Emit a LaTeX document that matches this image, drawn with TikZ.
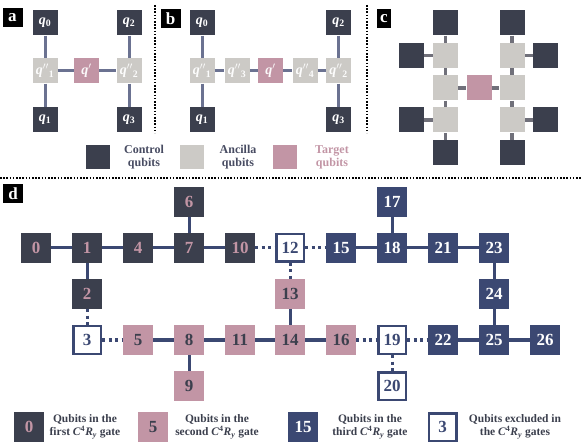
\documentclass[tikz,border=0pt]{standalone}
\usepackage{fontspec}
\setmainfont{Liberation Serif}
\usetikzlibrary{positioning}
\definecolor{qctrl}{RGB}{59,63,77}
\definecolor{qanc}{RGB}{204,202,198}
\definecolor{qtgt}{RGB}{194,149,165}
\definecolor{qnavy}{RGB}{59,72,114}
\definecolor{qlink}{RGB}{107,114,145}
\definecolor{qstub}{RGB}{112,112,122}
\definecolor{qink}{RGB}{72,76,98}
\newcommand{\crgate}{\textit{C}\textsuperscript{4}\textit{R}\textsubscript{\textit{y}}}

\begin{document}
\begin{tikzpicture}[
  x=1pt, y=-1pt,
  qbox/.style={minimum size=25pt, inner sep=0pt, font=\bfseries\fontsize{14}{14}\selectfont},
  ctrl/.style={qbox, fill=qctrl, text=white},
  anc/.style={qbox, fill=qanc, text=white!94!qanc},
  tgt/.style={qbox, fill=qtgt, text=white!94!qtgt},
  link/.style={draw=qlink, line width=3pt},
  stub/.style={draw=qstub, line width=3.5pt},
  tag/.style={fill=black, text=white, font=\bfseries\fontsize{17}{17}\selectfont, inner sep=0pt, minimum width=20pt, minimum height=19pt},
  sepline/.style={line width=1.6pt, dash pattern=on 1.6pt off 1.6pt},
  dbox/.style={minimum size=30pt, inner sep=0pt, font=\bfseries\fontsize{17}{17}\selectfont},
  grpA/.style={dbox, fill=qctrl, text=qtgt},
  grpB/.style={dbox, fill=qtgt, text=qctrl},
  grpC/.style={dbox, fill=qnavy, text=white},
  dropped/.style={dbox, fill=white, draw=qnavy, line width=2.5pt, text=qnavy, minimum size=27.5pt},
  wire/.style={draw=qnavy, line width=3pt},
  hop/.style={draw=qnavy, line width=3pt, dash pattern=on 3pt off 3.5pt},
  key/.style={align=center, text=qink, font=\bfseries\fontsize{12}{13}\selectfont},
  note/.style={align=center, text=qctrl, font=\bfseries\fontsize{11.5}{13}\selectfont}
]
\useasboundingbox (0,0) rectangle (581,446);

% separators
\draw[sepline] (155,5) -- (155,133);
\draw[sepline] (367,5) -- (367,133);
\draw[sepline] (0,178) -- (581,178);

% panel a
\node[tag] (taga) at (12.5,18) {a};
\node[ctrl] (a0) at (45,23) {\textit{q}\textsubscript{0}};
\node[anc] (a1p) at (45,71) {\textit{q}$''$\textsubscript{1}};
\node[ctrl] (a1) at (45,120) {\textit{q}\textsubscript{1}};
\node[tgt] (at) at (86.5,71) {\textit{q}$'$};
\node[anc] (a2p) at (129,71) {\textit{q}$''$\textsubscript{2}};
\node[ctrl] (a2) at (129,23) {\textit{q}\textsubscript{2}};
\node[ctrl] (a3) at (129,120) {\textit{q}\textsubscript{3}};
\draw[link] (a0) -- (a1p);
\draw[link] (a1p) -- (a1);
\draw[link] (a1p) -- (at);
\draw[link] (at) -- (a2p);
\draw[link] (a2) -- (a2p);
\draw[link] (a2p) -- (a3);

% panel b
\node[tag] (tagb) at (170.5,18.5) {b};
\node[ctrl] (b0) at (202,23) {\textit{q}\textsubscript{0}};
\node[anc] (b1p) at (202,71) {\textit{q}$''$\textsubscript{1}};
\node[ctrl] (b1) at (202,120) {\textit{q}\textsubscript{1}};
\node[anc] (b3p) at (237,71) {\textit{q}$''$\textsubscript{3}};
\node[tgt] (bt) at (270.5,71) {\textit{q}$'$};
\node[anc] (b4p) at (305,71) {\textit{q}$''$\textsubscript{4}};
\node[anc] (b2p) at (338.5,71) {\textit{q}$''$\textsubscript{2}};
\node[ctrl] (b2) at (338.5,23) {\textit{q}\textsubscript{2}};
\node[ctrl] (b3) at (338.5,120) {\textit{q}\textsubscript{3}};
\draw[link] (b0) -- (b1p);
\draw[link] (b1p) -- (b1);
\draw[link] (b1p) -- (b3p);
\draw[link] (b3p) -- (bt);
\draw[link] (bt) -- (b4p);
\draw[link] (b4p) -- (b2p);
\draw[link] (b2) -- (b2p);
\draw[link] (b2p) -- (b3);

% legend a/b
\node[ctrl, minimum size=24pt] (kctrl) at (98,157.5) {};
\node[key] (tctrl) at (144,157.5) {Control\\qubits};
\node[anc, minimum size=24pt] (kanc) at (192,157.5) {};
\node[key] (tanc) at (238,157.5) {Ancilla\\qubits};
\node[tgt, minimum size=24pt] (ktgt) at (284.5,157.5) {};
\node[key, text=qtgt] (ttgt) at (332,157.5) {Target\\qubits};

% panel c
\node[tag, minimum width=14pt] (tagc) at (384,18.5) {c};
\node[ctrl] (c1) at (445.5,23) {};
\node[ctrl] (c2) at (512,23) {};
\node[ctrl] (c3) at (411.5,55.5) {};
\node[ctrl] (c4) at (545.5,55.5) {};
\node[ctrl] (c5) at (411.5,120) {};
\node[ctrl] (c6) at (545.5,120) {};
\node[ctrl] (c7) at (445.5,153) {};
\node[ctrl] (c8) at (512,153) {};
\node[anc] (n1) at (445.5,55.5) {};
\node[anc] (n2) at (512,55.5) {};
\node[anc] (n3) at (445.5,88) {};
\node[anc] (n4) at (512,88) {};
\node[anc] (n5) at (445.5,120) {};
\node[anc] (n6) at (512,120) {};
\node[tgt] (ct) at (479,88) {};
\draw[stub] (c1) -- (n1);
\draw[stub] (c2) -- (n2);
\draw[stub] (c3) -- (n1);
\draw[stub] (c4) -- (n2);
\draw[stub] (c5) -- (n5);
\draw[stub] (c6) -- (n6);
\draw[stub] (c7) -- (n5);
\draw[stub] (c8) -- (n6);
\draw[stub] (n1) -- (n3);
\draw[stub] (n3) -- (n5);
\draw[stub] (n2) -- (n4);
\draw[stub] (n4) -- (n6);
\draw[stub] (n3) -- (ct);
\draw[stub] (ct) -- (n4);

% panel d
\node[tag] (tagd) at (13,194) {d};
\node[grpA] (q0) at (36,248) {0};
\node[grpA] (q1) at (87,248) {1};
\node[grpA] (q2) at (87,294) {2};
\node[dropped] (q3) at (87,340) {3};
\node[grpA] (q4) at (138,248) {4};
\node[grpB] (q5) at (138,340) {5};
\node[grpA] (q6) at (189,202) {6};
\node[grpA] (q7) at (189,248) {7};
\node[grpB] (q8) at (189,340) {8};
\node[grpB] (q9) at (189,386) {9};
\node[grpA] (q10) at (240,248) {10};
\node[grpB] (q11) at (240,340) {11};
\node[dropped] (q12) at (290,248) {12};
\node[grpB] (q13) at (290,294) {13};
\node[grpB] (q14) at (290,340) {14};
\node[grpC] (q15) at (341,248) {15};
\node[grpB] (q16) at (341,340) {16};
\node[grpC] (q17) at (392,202) {17};
\node[grpC] (q18) at (392,248) {18};
\node[dropped] (q19) at (392,340) {19};
\node[dropped] (q20) at (392,386) {20};
\node[grpC] (q21) at (443,248) {21};
\node[grpC] (q22) at (443,340) {22};
\node[grpC] (q23) at (494,248) {23};
\node[grpC] (q24) at (494,294) {24};
\node[grpC] (q25) at (494,340) {25};
\node[grpC] (q26) at (545,340) {26};

\draw[wire] (q0) -- (q1);
\draw[wire] (q1) -- (q4);
\draw[wire] (q4) -- (q7);
\draw[wire] (q7) -- (q10);
\draw[wire] (q6) -- (q7);
\draw[wire] (q1) -- (q2);
\draw[hop] (q2) -- (q3);
\draw[hop] (q3) -- (q5);
\draw[wire] (q5) -- (q8);
\draw[wire] (q8) -- (q11);
\draw[wire] (q8) -- (q9);
\draw[wire] (q11) -- (q14);
\draw[hop] (q10) -- (q12);
\draw[hop] (q12) -- (q15);
\draw[hop] (q12) -- (q13);
\draw[wire] (q13) -- (q14);
\draw[wire] (q14) -- (q16);
\draw[hop] (q16) -- (q19);
\draw[hop] (q19) -- (q22);
\draw[hop] (q19) -- (q20);
\draw[wire] (q15) -- (q18);
\draw[wire] (q17) -- (q18);
\draw[wire] (q18) -- (q21);
\draw[wire] (q21) -- (q23);
\draw[wire] (q23) -- (q24);
\draw[wire] (q24) -- (q25);
\draw[wire] (q22) -- (q25);
\draw[wire] (q25) -- (q26);

% legend d
\node[grpA] (k0) at (29,427) {0};
\node[note] (t0) at (85,427) {Qubits in the\\first \crgate\ gate};
\node[grpB] (k5) at (153,427) {5};
\node[note] (t5) at (217,427) {Qubits in the\\second \crgate\ gate};
\node[grpC] (k15) at (303,427) {15};
\node[note] (t15) at (370,427) {Qubits in the\\third \crgate\ gate};
\node[dropped] (k3) at (442.5,427) {3};
\node[note] (t3) at (515,427) {Qubits excluded in\\the \crgate\ gates};
\end{tikzpicture}
\end{document}
